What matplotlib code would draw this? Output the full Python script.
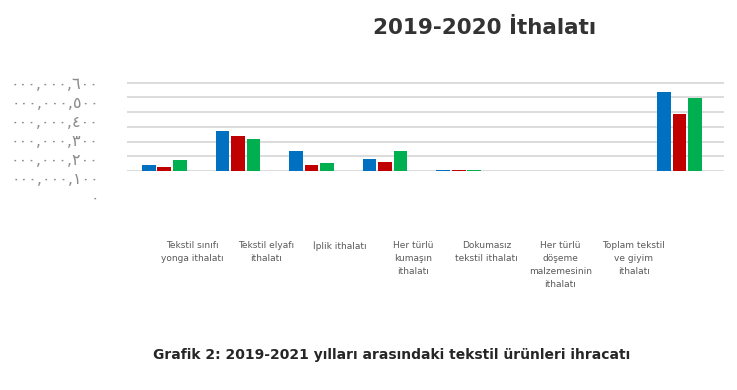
import numpy as np
import matplotlib
matplotlib.use("Agg")
import matplotlib.pyplot as plt

# data (thousands)
gruplar = ["Tekstil sınıfı yonga", "Tekstil elyafı", "İplik", "Her türlü kumaş",
           "Dokumasız tekstil", "Her türlü döşeme", "Diğer", "Toplam tekstil ve giyim"]
seri_2019 = [40, 272, 134, 82, 4, 0, 0, 539]
seri_2020 = [30, 238, 41, 59, 4, 0, 0, 386]
seri_2021 = [75, 218, 56, 138, 4, 0, 0, 499]
renkler = ["#0070C0", "#C00000", "#00B050"]

etiketler = ["Tekstil sınıfı\nyonga ithalatı", "Tekstil elyafı\nithalatı", "İplik ithalatı",
             "Her türlü\nkumaşın\nithalatı", "Dokumasız\ntekstil ithalatı",
             "Her türlü\ndöşeme\nmalzemesinin\nithalatı", "Toplam tekstil\nve giyim\nithalatı"]

y_degerler = [0, 100, 200, 300, 400, 500, 600]
y_etiketler = ["٠", "٠٠٠,٠٠٠,١٠٠", "٠٠٠,٠٠٠,٢٠٠", "٠٠٠,٠٠٠,٣٠٠",
               "٠٠٠,٠٠٠,٤٠٠", "٠٠٠,٠٠٠,٥٠٠", "٠٠٠,٠٠٠,٦٠٠"]

W, H = 737, 390
fig = plt.figure(figsize=(W / 100, H / 100), dpi=100)

def px(x0, y0, x1, y1):
    # pixel box (top-left origin) -> figure fraction
    return [x0 / W, 1 - y1 / H, (x1 - x0) / W, (y1 - y0) / H]

ax = fig.add_axes(px(127.5, 82.3, 723.7, 171.4))
x = np.arange(len(gruplar))
gen = 0.185
for i, (seri, renk) in enumerate(zip([seri_2019, seri_2020, seri_2021], renkler)):
    ax.bar(x + (i - 1) * 0.21, seri, gen, color=renk, zorder=3)

ax.set_xlim(-0.5, 7.6)
ax.set_ylim(-3, 603)
ax.set_yticks(y_degerler)
ax.set_yticklabels([])
ax.tick_params(axis="y", length=0)
ax.grid(axis="y", color="#D9D9D9", linewidth=1.3, zorder=0)
for s in ax.spines.values():
    s.set_visible(False)

ax.set_xticks(np.arange(len(etiketler)) + 0.38)
ax.set_xticklabels(etiketler, fontsize=6.5, color="#595959", linespacing=1.6)
ax.tick_params(axis="x", length=0, pad=50)

# y labels sit on their own (misaligned) scale in the reference
ax_y = fig.add_axes(px(99, 83, 100, 197))
ax_y.set_ylim(0, 600)
ax_y.set_yticks(y_degerler)
ax_y.set_yticklabels(y_etiketler, fontsize=11.5, color="#8C8C8C", family="DejaVu Sans")
ax_y.tick_params(axis="y", length=0, pad=0)
ax_y.set_xticks([])
for s in ax_y.spines.values():
    s.set_visible(False)
ax_y.patch.set_visible(False)

fig.text(485 / W, 1 - 28 / H, "2019-2020 İthalatı", ha="center", va="center",
         fontsize=15.5, fontweight="bold", color="#333333")
fig.text(392 / W, 1 - 355 / H, "Grafik 2: 2019-2021 yılları arasındaki tekstil ürünleri ihracatı",
         ha="center", va="center", fontsize=10, fontweight="bold", color="#262626")

fig.savefig("out.png", dpi=100)
